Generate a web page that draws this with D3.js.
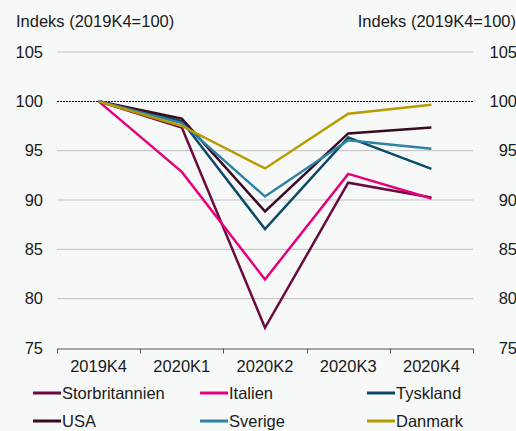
<!DOCTYPE html>
<html>
<head>
<meta charset="utf-8">
<script src="https://cdn.jsdelivr.net/npm/d3@7"></script>
<style>
  html, body { margin: 0; padding: 0; background: #f7f9f9; }
  svg { display: block; font-family: Arial, "Liberation Sans", sans-serif; }
</style>
</head>
<body>
<div id="chart"></div>
<script>
// chart data
let quarters = ['2019K4', '2020K1', '2020K2', '2020K3', '2020K4'];
let seriesNames = ['Storbritannien', 'Italien', 'Tyskland', 'USA', 'Sverige', 'Danmark'];
let seriesColors = ['#6b0a3e', '#e6007e', '#0b4a66', '#3a0a22', '#2e82a3', '#b89b00'];
let storbritannien = [100, 97.35, 77.05, 91.75, 90.25];
let italien = [100, 92.85, 81.95, 92.65, 90.15];
let tyskland = [100, 98.0, 87.05, 96.35, 93.15];
let usa = [100, 98.25, 88.85, 96.75, 97.35];
let sverige = [100, 97.8, 90.35, 96.05, 95.2];
let danmark = [100, 97.5, 93.2, 98.75, 99.65];
let yTicks = [75, 80, 85, 90, 95, 100, 105];
let axisTitle = 'Indeks (2019K4=100)';

let seriesValues = [storbritannien, italien, tyskland, usa, sverige, danmark];

let width = 516, height = 431;
let margin = {left: 57, right: 43, top: 52, bottom: 83};
let fontSize = 16.5;

let svg = d3.select('#chart').append('svg')
    .attr('width', width)
    .attr('height', height);

let x = d3.scaleBand()
    .domain(quarters)
    .range([margin.left, width - margin.right]);

let y = d3.scaleLinear()
    .domain([75, 105])
    .range([height - margin.bottom, margin.top]);

// gridlines
svg.append('g').selectAll('line')
    .data(yTicks.filter(function(d) { return d != 75 && d != 100; }))
    .enter().append('line')
    .attr('x1', margin.left).attr('x2', width - margin.right)
    .attr('y1', function(d) { return y(d); })
    .attr('y2', function(d) { return y(d); })
    .attr('stroke', '#bdbdbd')
    .attr('stroke-width', 1);

// dashed 100 line
svg.append('line')
    .attr('x1', margin.left).attr('x2', width - margin.right)
    .attr('y1', Math.round(y(100)) + 0.5).attr('y2', Math.round(y(100)) + 0.5)
    .attr('stroke', '#000')
    .attr('stroke-width', 1)
    .attr('stroke-dasharray', '2,1');

// y tick labels, left and right
svg.append('g').selectAll('text').data(yTicks).enter().append('text')
    .attr('x', 43).attr('y', function(d) { return y(d); })
    .attr('dy', '0.35em')
    .attr('text-anchor', 'end')
    .attr('font-size', fontSize)
    .attr('fill', '#1a1a1a')
    .text(function(d) { return d; });

svg.append('g').selectAll('text').data(yTicks).enter().append('text')
    .attr('x', 517).attr('y', function(d) { return y(d); })
    .attr('dy', '0.35em')
    .attr('text-anchor', 'end')
    .attr('font-size', fontSize)
    .attr('fill', '#1a1a1a')
    .text(function(d) { return d; });

svg.append('text')
    .attr('x', 16).attr('y', 27)
    .attr('font-size', fontSize).attr('fill', '#1a1a1a')
    .text(axisTitle);
svg.append('text')
    .attr('x', 516).attr('y', 27)
    .attr('text-anchor', 'end')
    .attr('font-size', fontSize).attr('fill', '#1a1a1a')
    .text(axisTitle);

// x axis
let axisX = d3.axisBottom(x).tickSize(0).tickPadding(12);
let gx = svg.append('g')
    .attr('transform', 'translate(0,' + (Math.round(y(75)) + 0.5) + ')')
    .call(axisX);
gx.select('.domain').attr('stroke', '#555');
gx.selectAll('text').attr('font-size', fontSize).attr('fill', '#1a1a1a')
    .attr('font-family', 'Arial, "Liberation Sans", sans-serif');

// tick marks between categories
let bounds = quarters.map(function(q) { return x(q); }).concat([x(quarters[quarters.length - 1]) + x.bandwidth()]);
gx.selectAll('line.sep').data(bounds).enter().append('line')
    .attr('class', 'sep')
    .attr('x1', function(d) { return Math.round(d) + 0.5; })
    .attr('x2', function(d) { return Math.round(d) + 0.5; })
    .attr('y1', 0).attr('y2', 5)
    .attr('stroke', '#555');

// lines
let line = d3.line()
    .x(function(d, i) { return x(quarters[i]) + x.bandwidth() / 2; })
    .y(function(d) { return y(d); });

svg.append('g').selectAll('path')
    .data(seriesValues)
    .enter().append('path')
    .attr('d', line)
    .attr('fill', 'none')
    .attr('stroke', function(d, i) { return seriesColors[i]; })
    .attr('stroke-width', 2.5)
    .attr('stroke-linejoin', 'miter');

// legend
let legendCols = [33, 200, 367];
let legendRows = [393, 421];
let legend = svg.append('g').selectAll('g')
    .data(seriesNames)
    .enter().append('g')
    .attr('transform', function(d, i) {
        return 'translate(' + legendCols[i % 3] + ',' + legendRows[Math.floor(i / 3)] + ')';
    });
legend.append('line')
    .attr('x1', 0).attr('x2', 28)
    .attr('y1', 0).attr('y2', 0)
    .attr('stroke', function(d, i) { return seriesColors[i]; })
    .attr('stroke-width', 3);
legend.append('text')
    .attr('x', 29).attr('y', 0)
    .attr('dy', '0.35em')
    .attr('font-size', fontSize)
    .attr('fill', '#1a1a1a')
    .text(function(d) { return d; });
</script>
</body>
</html>
